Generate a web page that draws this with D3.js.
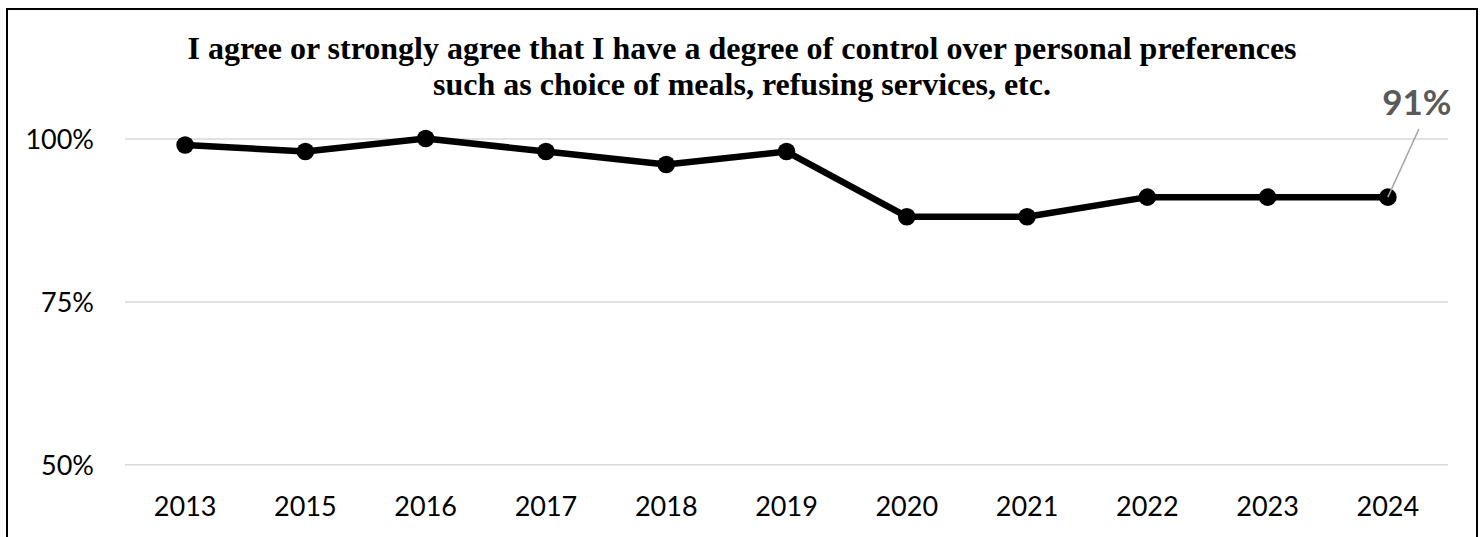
<!DOCTYPE html>
<html>
<head>
<meta charset="utf-8">
<script src="https://cdn.jsdelivr.net/npm/d3@7/dist/d3.min.js"></script>
<style>
  html, body { margin: 0; padding: 0; background: #ffffff; }
  svg { display: block; }
</style>
</head>
<body>
<svg id="chart" width="1484" height="537"></svg>
<script>
const years = ["2013","2015","2016","2017","2018","2019","2020","2021","2022","2023","2024"];
const values = [99, 98, 100, 98, 96, 98, 88, 88, 91, 91, 91];
const yTicks = [50, 75, 100];
const titleLines = [
  "I agree or strongly agree that I have a degree of control over personal preferences",
  "such as choice of meals, refusing services, etc."
];
const lastLabel = "91%";

const svg = d3.select("#chart");
svg.append("rect").attr("x", 0).attr("y", 0).attr("width", 1484).attr("height", 537).attr("fill", "#fff");

// outer border
svg.append("rect")
  .attr("x", 7).attr("y", 9).attr("width", 1470).attr("height", 545)
  .attr("fill", "none").attr("stroke", "#000").attr("stroke-width", 2);

const x = d3.scaleBand().domain(years).range([125, 1448]).padding(0);
const y = d3.scaleLinear().domain([50, 100]).range([464.3, 138.5]);
const cx = d => x(d) + x.bandwidth() / 2;

// gridlines + y labels
const yAxis = d3.axisLeft(y).tickValues(yTicks).tickFormat(d => d + "%").tickSize(-(1448 - 125)).tickPadding(31);
const gy = svg.append("g").attr("transform", "translate(125,0)").call(yAxis);
gy.select(".domain").remove();
gy.selectAll(".tick line").attr("stroke", "#d9d9d9").attr("stroke-width", 1.5);
gy.selectAll(".tick text")
  .attr("font-family", "Lato, 'Open Sans', sans-serif")
  .attr("font-size", 27).attr("fill", "#000").attr("dy", "0.36em");

// x axis labels
const xAxis = d3.axisBottom(x).tickSize(0).tickPadding(0);
const gx = svg.append("g").attr("transform", "translate(0,497)").call(xAxis);
gx.select(".domain").remove();
gx.selectAll(".tick text")
  .attr("font-family", "Lato, 'Open Sans', sans-serif")
  .attr("font-size", 27).attr("fill", "#000").attr("dy", "0.71em");

// line
const line = d3.line().x((d, i) => cx(years[i])).y(d => y(d));
svg.append("path").datum(values)
  .attr("d", line).attr("fill", "none")
  .attr("stroke", "#000").attr("stroke-width", 6.5).attr("stroke-linejoin", "round");

svg.selectAll("circle.pt").data(values).enter().append("circle")
  .attr("class", "pt")
  .attr("cx", (d, i) => cx(years[i]))
  .attr("cy", d => y(d))
  .attr("r", 8.8).attr("fill", "#000");

// title
svg.selectAll("text.title").data(titleLines).enter().append("text")
  .attr("class", "title")
  .attr("x", 742).attr("y", (d, i) => 58.5 + i * 36.5)
  .attr("text-anchor", "middle")
  .attr("font-family", "'Liberation Serif', 'Times New Roman', serif")
  .attr("font-weight", "bold").attr("font-size", 32).attr("fill", "#000")
  .text(d => d);

// last value label with leader line
const lastI = values.length - 1;
const lx = cx(years[lastI]), ly = y(values[lastI]);
svg.append("line")
  .attr("x1", lx).attr("y1", ly)
  .attr("x2", lx + 31).attr("y2", ly - 68)
  .attr("stroke", "#a6a6a6").attr("stroke-width", 1.5);
svg.append("text")
  .attr("x", lx + 29).attr("y", 115)
  .attr("text-anchor", "middle")
  .attr("font-family", "Lato, 'Open Sans', sans-serif")
  .attr("font-weight", "bold").attr("font-size", 35).attr("fill", "#595959")
  .text(lastLabel);
</script>
</body>
</html>
